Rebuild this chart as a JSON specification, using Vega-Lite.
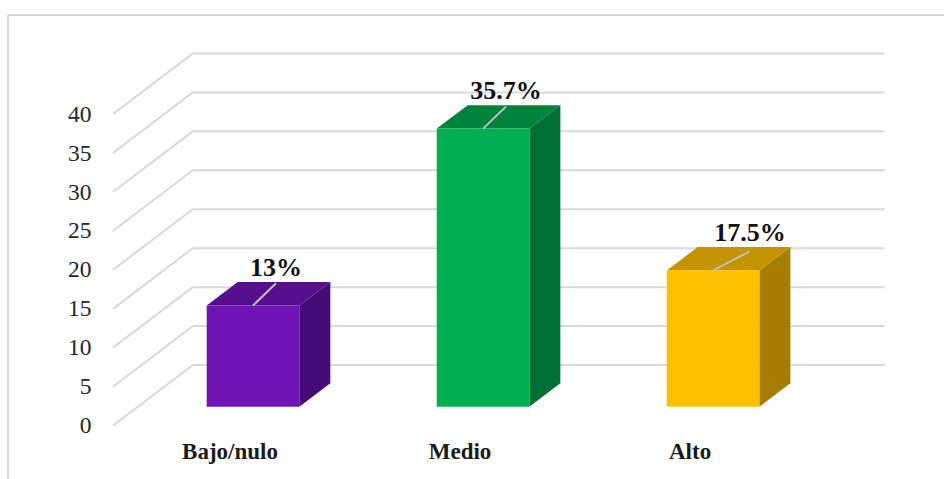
{
  "$schema": "https://vega.github.io/schema/vega-lite/v6.json",
  "width": 944,
  "height": 479,
  "padding": 0,
  "autosize": {"type": "none"},
  "background": "white",
  "params": [
    {"name": "mitad", "value": 0.2013},
    {"name": "fondoX", "value": 0.1348},
    {"name": "fondoY", "value": 3.0}
  ],
  "datasets": {
    "niveles": [
      {"categoria": "Bajo/nulo", "orden": 0, "valor": 13, "etiqueta": "13%"},
      {"categoria": "Medio", "orden": 1, "valor": 35.7, "etiqueta": "35.7%"},
      {"categoria": "Alto", "orden": 2, "valor": 17.5, "etiqueta": "17.5%"}
    ],
    "marcas": [
      {"marca": 0}, {"marca": 5}, {"marca": 10}, {"marca": 15}, {"marca": 20},
      {"marca": 25}, {"marca": 30}, {"marca": 35}, {"marca": 40}
    ],
    "borde": [{"lado": "superior"}, {"lado": "izquierdo"}]
  },
  "encoding": {
    "x": {
      "field": "xPos",
      "type": "quantitative",
      "scale": {"domain": [-1.1, 3.004], "nice": false, "zero": false},
      "axis": null
    },
    "y": {
      "field": "yPos",
      "type": "quantitative",
      "scale": {"domain": [-9.28, 52.21], "nice": false, "zero": false},
      "axis": {
        "title": null,
        "orient": "left",
        "offset": -100,
        "values": [0, 5, 10, 15, 20, 25, 30, 35, 40],
        "domain": false,
        "ticks": false,
        "grid": false,
        "labelPadding": 9,
        "labelOffset": 19,
        "labelFont": "Liberation Serif",
        "labelFontSize": 23.5,
        "labelColor": "#262626",
        "labelBaseline": "middle",
        "labelOverlap": false,
        "labelBound": false,
        "labelFlush": false
      }
    }
  },
  "layer": [
    {
      "data": {"name": "borde"},
      "transform": [
        {"calculate": "-1.065", "as": "xPos"},
        {"calculate": "50.28", "as": "yPos"},
        {"calculate": "datum.lado === 'superior' ? 3.004 : -1.065", "as": "xFin"},
        {"calculate": "datum.lado === 'superior' ? 50.28 : -9.28", "as": "yFin"}
      ],
      "mark": {"type": "rule", "color": "#D9D9D9", "strokeWidth": 2},
      "encoding": {"x2": {"field": "xFin"}, "y2": {"field": "yFin"}}
    },
    {
      "data": {"name": "marcas"},
      "transform": [
        {"calculate": "-0.609", "as": "xPos"},
        {"calculate": "datum.marca - 2.44", "as": "yPos"},
        {"calculate": "-0.262", "as": "xFin"},
        {"calculate": "datum.marca + 5.35", "as": "yFin"}
      ],
      "mark": {"type": "rule", "color": "#D9D9D9", "strokeWidth": 2},
      "encoding": {"x2": {"field": "xFin"}, "y2": {"field": "yFin"}}
    },
    {
      "data": {"name": "marcas"},
      "transform": [
        {"calculate": "-0.262", "as": "xPos"},
        {"calculate": "datum.marca + 5.35", "as": "yPos"},
        {"calculate": "2.746", "as": "xFin"}
      ],
      "mark": {"type": "rule", "color": "#D9D9D9", "strokeWidth": 2},
      "encoding": {"x2": {"field": "xFin"}}
    },
    {
      "data": {"name": "niveles"},
      "transform": [
        {"calculate": "[0, 1]", "as": "esquina"},
        {"flatten": ["esquina"]},
        {"calculate": "datum.orden + mitad + datum.esquina * fondoX", "as": "xPos"},
        {"calculate": "datum.esquina * fondoY", "as": "yPos"},
        {"calculate": "datum.valor + datum.esquina * fondoY", "as": "yTope"}
      ],
      "mark": {"type": "area", "interpolate": "linear", "opacity": 1},
      "encoding": {
        "y2": {"field": "yTope"},
        "color": {
          "field": "categoria",
          "type": "nominal",
          "legend": null,
          "scale": {"domain": ["Bajo/nulo", "Medio", "Alto"], "range": ["#450C78", "#006F33", "#A67D00"]}
        }
      }
    },
    {
      "data": {"name": "niveles"},
      "transform": [
        {"calculate": "[0, 1, 2, 3]", "as": "esquina"},
        {"flatten": ["esquina"]},
        {"calculate": "datum.orden - mitad + (datum.esquina === 1 ? fondoX : datum.esquina === 2 ? 2 * mitad : datum.esquina === 3 ? 2 * mitad + fondoX : 0)", "as": "xPos"},
        {"calculate": "datum.valor + (datum.esquina === 3 ? fondoY : 0)", "as": "yPos"},
        {"calculate": "datum.valor + (datum.esquina === 0 ? 0 : fondoY)", "as": "yTope"}
      ],
      "mark": {"type": "area", "interpolate": "linear", "opacity": 1},
      "encoding": {
        "y2": {"field": "yTope"},
        "color": {
          "field": "categoria",
          "type": "nominal",
          "legend": null,
          "scale": {"domain": ["Bajo/nulo", "Medio", "Alto"], "range": ["#550F90", "#00843C", "#C49400"]}
        }
      }
    },
    {
      "data": {"name": "niveles"},
      "transform": [
        {"calculate": "datum.orden - mitad", "as": "xPos"},
        {"calculate": "datum.orden + mitad", "as": "xFin"},
        {"calculate": "0", "as": "yPos"},
        {"calculate": "datum.valor", "as": "yFin"}
      ],
      "mark": {"type": "rect"},
      "encoding": {
        "x2": {"field": "xFin"},
        "y2": {"field": "yFin"},
        "color": {
          "field": "categoria",
          "type": "nominal",
          "legend": null,
          "scale": {"domain": ["Bajo/nulo", "Medio", "Alto"], "range": ["#7013B4", "#00B050", "#FFC000"]}
        }
      }
    },
    {
      "data": {"name": "niveles"},
      "transform": [
        {"calculate": "datum.orden", "as": "xPos"},
        {"calculate": "datum.valor", "as": "yPos"},
        {"calculate": "datum.orden + (datum.categoria === 'Alto' ? 0.157 : 0.1)", "as": "xFin"},
        {"calculate": "datum.valor + (datum.categoria === 'Alto' ? 2.4 : 2.85)", "as": "yFin"}
      ],
      "mark": {"type": "rule", "color": "#BFBFBF", "strokeWidth": 2},
      "encoding": {"x2": {"field": "xFin"}, "y2": {"field": "yFin"}}
    },
    {
      "data": {"name": "niveles"},
      "transform": [
        {"calculate": "datum.orden + (datum.categoria === 'Alto' ? 0.161 : 0.1)", "as": "xPos"},
        {"calculate": "datum.valor + 3.75", "as": "yPos"}
      ],
      "mark": {
        "type": "text",
        "font": "Liberation Serif",
        "fontWeight": "bold",
        "fontSize": 26,
        "align": "center",
        "baseline": "alphabetic",
        "color": "#111111"
      },
      "encoding": {"text": {"field": "etiqueta"}}
    },
    {
      "data": {"name": "niveles"},
      "transform": [
        {"calculate": "datum.orden - 0.1", "as": "xPos"},
        {"calculate": "-6.71", "as": "yPos"}
      ],
      "mark": {
        "type": "text",
        "font": "Liberation Serif",
        "fontWeight": "bold",
        "fontSize": 23,
        "align": "center",
        "baseline": "alphabetic",
        "color": "#1A1A1A"
      },
      "encoding": {"text": {"field": "categoria"}}
    }
  ],
  "resolve": {"scale": {"color": "independent"}},
  "config": {"view": {"stroke": null}}
}
